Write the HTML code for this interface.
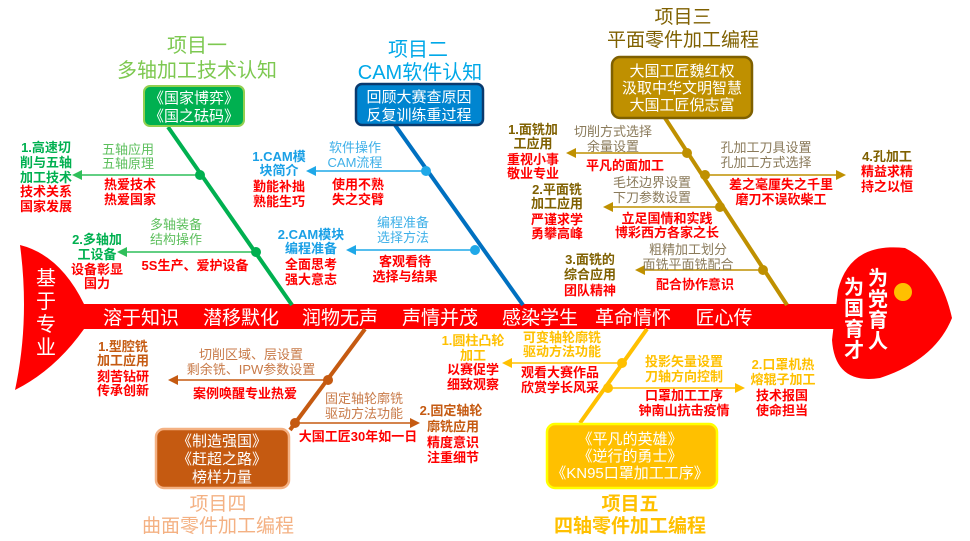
<!DOCTYPE html>
<html><head><meta charset="utf-8"><style>
html,body{margin:0;padding:0;background:#fff;}
svg{display:block;font-family:"Liberation Sans","Noto Sans CJK SC",sans-serif;}
.r{fill:#ff0000;font-weight:700;font-size:13px;}
.s{font-size:13px;}
.b{font-weight:700;font-size:13px;}
</style></head><body>
<svg width="970" height="541" viewBox="0 0 970 541" xmlns="http://www.w3.org/2000/svg" text-anchor="middle">
<defs>
<marker id="ag" markerWidth="8" markerHeight="8" refX="1" refY="4" orient="auto-start-reverse" markerUnits="userSpaceOnUse"><path d="M0,4 L9,0 L9,8 Z" fill="#2fbf5a"/></marker>
</defs>
<!-- spine -->
<rect x="80" y="304" width="760" height="25" fill="#ff0000"/>
<path d="M20,245 Q60,255 84,304 L84,329 Q55,370 15,390 Q30,320 20,245 Z" fill="#ff0000"/>
<path d="M838,290 Q850,242 905,248 Q940,265 952,318 Q935,360 880,378 Q835,385 832,340 Z" fill="#ff0000"/>
<circle cx="903" cy="292" r="9" fill="#ffc000"/>
<g fill="#fff" font-size="20">
<text x="46" y="285">基</text><text x="46" y="308">于</text><text x="46" y="331">专</text><text x="46" y="354">业</text>
<text x="878" y="285" font-weight="700">为</text><text x="878" y="306" font-weight="700">党</text><text x="878" y="327" font-weight="700">育</text><text x="878" y="348" font-weight="700">人</text>
<text x="854" y="294" font-weight="700">为</text><text x="854" y="315" font-weight="700">国</text><text x="854" y="336" font-weight="700">育</text><text x="854" y="357" font-weight="700">才</text>
<g font-size="19"><text x="141" y="324">溶于知识</text><text x="241" y="324">潜移默化</text><text x="340" y="324">润物无声</text><text x="440" y="324">声情并茂</text><text x="540" y="324">感染学生</text><text x="633" y="324">革命情怀</text><text x="724" y="324">匠心传</text></g>
</g>

<!-- GREEN -->
<g stroke="#00b050" stroke-width="4"><line x1="168" y1="127" x2="292" y2="305"/></g>
<g stroke="#2fbf5a" stroke-width="1.5"><line x1="200" y1="175" x2="80" y2="175"/><line x1="256" y1="252" x2="126" y2="252"/></g>
<path d="M72,175 L82,170 L82,180Z M117,252 L127,247 L127,257Z" fill="#2fbf5a"/>
<circle cx="200" cy="175" r="5" fill="#00b050"/><circle cx="256" cy="252" r="5" fill="#00b050"/>
<rect x="144" y="86" width="100" height="40" rx="6" fill="#00b050" stroke="#92d050" stroke-width="2"/>
<g fill="#fff" font-size="15"><text x="194" y="103">《国家博弈》</text><text x="194" y="121">《国之砝码》</text></g>
<g fill="#7dc850" font-size="20"><text x="197" y="52">项目一</text><text x="197" y="77">多轴加工技术认知</text></g>
<g fill="#5cbf5c" class="s"><text x="128" y="154">五轴应用</text><text x="128" y="168">五轴原理</text><text x="176" y="229">多轴装备</text><text x="176" y="244">结构操作</text></g>
<g class="r"><text x="130" y="189">热爱技术</text><text x="130" y="204">热爱国家</text><text x="195" y="270">5S生产、爱护设备</text><text x="46" y="196">技术关系</text><text x="46" y="211">国家发展</text><text x="97" y="274">设备彰显</text><text x="97" y="288">国力</text></g>
<g fill="#00b050" class="b"><text x="46" y="152">1.高速切</text><text x="46" y="167">削与五轴</text><text x="46" y="182">加工技术</text><text x="97" y="244">2.多轴加</text><text x="97" y="259">工设备</text></g>

<!-- BLUE -->
<line x1="395" y1="125" x2="523" y2="305" stroke="#0070c0" stroke-width="4"/>
<g stroke="#1fa8e8" stroke-width="1.5"><line x1="426" y1="171" x2="314" y2="171"/><line x1="475" y1="250" x2="354" y2="250"/></g>
<path d="M306,171 L316,166 L316,176Z M346,250 L356,245 L356,255Z" fill="#1fa8e8"/>
<circle cx="426" cy="171" r="5" fill="#1fa8e8"/><circle cx="475" cy="250" r="5" fill="#1fa8e8"/>
<rect x="356" y="84" width="127" height="41" rx="6" fill="#0085d0" stroke="#0a3a6e" stroke-width="2.5"/>
<g fill="#fff" font-size="15"><text x="419" y="102">回顾大赛查原因</text><text x="419" y="120">反复训练重过程</text></g>
<g fill="#00a8e8" font-size="20"><text x="418" y="56">项目二</text><text x="420" y="79">CAM软件认知</text></g>
<g fill="#3fb0e8" class="s"><text x="355" y="152">软件操作</text><text x="355" y="167">CAM流程</text><text x="403" y="227">编程准备</text><text x="403" y="242">选择方法</text></g>
<g class="r"><text x="358" y="189">使用不熟</text><text x="358" y="204">失之交臂</text><text x="405" y="266">客观看待</text><text x="405" y="281">选择与结果</text><text x="279" y="191">勤能补拙</text><text x="279" y="206">熟能生巧</text><text x="311" y="269">全面思考</text><text x="311" y="284">强大意志</text></g>
<g fill="#1aa0e6" class="b"><text x="279" y="161">1.CAM模</text><text x="279" y="175">块简介</text><text x="311" y="239">2.CAM模块</text><text x="311" y="253">编程准备</text></g>

<!-- GOLD -->
<line x1="665" y1="118" x2="787" y2="305" stroke="#bf9000" stroke-width="4"/>
<g stroke="#bf9000" stroke-width="1.5"><line x1="687" y1="153" x2="574" y2="153"/><line x1="705" y1="175" x2="838" y2="175"/><line x1="720" y1="207" x2="611" y2="207"/><line x1="763" y1="270" x2="643" y2="270"/></g>
<path d="M566,153 L576,148 L576,158Z M846,175 L836,170 L836,180Z M603,207 L613,202 L613,212Z M635,270 L645,265 L645,275Z" fill="#bf9000"/>
<g fill="#bf9000"><circle cx="687" cy="153" r="5"/><circle cx="705" cy="175" r="5"/><circle cx="720" cy="207" r="5"/><circle cx="763" cy="270" r="5"/></g>
<rect x="612" y="57" width="140" height="61" rx="8" fill="#bf9000" stroke="#7f6000" stroke-width="2.5"/>
<g fill="#fff" font-size="15"><text x="682" y="76">大国工匠魏红权</text><text x="682" y="93">汲取中华文明智慧</text><text x="682" y="110">大国工匠倪志富</text></g>
<g fill="#7f6000" font-size="19"><text x="683" y="23">项目三</text><text x="683" y="46">平面零件加工编程</text></g>
<g fill="#8a7a5a" class="s"><text x="613" y="136">切削方式选择</text><text x="613" y="151">余量设置</text><text x="766" y="152">孔加工刀具设置</text><text x="766" y="167">孔加工方式选择</text><text x="652" y="187">毛坯边界设置</text><text x="652" y="202">下刀参数设置</text><text x="688" y="254">粗精加工划分</text><text x="688" y="269">面铣平面铣配合</text></g>
<g class="r"><text x="625" y="170">平凡的面加工</text><text x="781" y="189">差之毫厘失之千里</text><text x="781" y="204">磨刀不误砍柴工</text><text x="667" y="223">立足国情和实践</text><text x="667" y="237">博彩西方各家之长</text><text x="695" y="289">配合协作意识</text>
<text x="533" y="164">重视小事</text><text x="533" y="178">敬业专业</text><text x="887" y="176">精益求精</text><text x="887" y="191">持之以恒</text><text x="557" y="224">严谨求学</text><text x="557" y="238">勇攀高峰</text><text x="590" y="295">团队精神</text></g>
<g fill="#7f6000" class="b"><text x="533" y="134">1.面铣加</text><text x="533" y="148">工应用</text><text x="887" y="161">4.孔加工</text><text x="557" y="194">2.平面铣</text><text x="557" y="208">加工应用</text><text x="590" y="264">3.面铣的</text><text x="590" y="279">综合应用</text></g>

<!-- BROWN -->
<line x1="365" y1="329" x2="290" y2="430" stroke="#c55a11" stroke-width="4"/>
<g stroke="#c55a11" stroke-width="1.5"><line x1="328" y1="380" x2="176" y2="380"/><line x1="295" y1="423" x2="412" y2="423"/></g>
<path d="M168,380 L178,375 L178,385Z M420,423 L410,418 L410,428Z" fill="#c55a11"/>
<g fill="#c55a11"><circle cx="328" cy="380" r="5"/><circle cx="295" cy="423" r="5"/></g>
<rect x="156" y="429" width="133" height="59" rx="8" fill="#c55a11" stroke="#f4b183" stroke-width="2.5"/>
<g fill="#fff" font-size="15"><text x="222" y="446">《制造强国》</text><text x="222" y="464">《赶超之路》</text><text x="222" y="482">榜样力量</text></g>
<g fill="#f4b183" font-size="19"><text x="218" y="510">项目四</text><text x="218" y="532">曲面零件加工编程</text></g>
<g fill="#c87a48" class="s"><text x="251" y="359">切削区域、层设置</text><text x="251" y="374">剩余铣、IPW参数设置</text><text x="364" y="403">固定轴轮廓铣</text><text x="364" y="418">驱动方法功能</text></g>
<g class="r"><text x="245" y="398">案例唤醒专业热爱</text><text x="358" y="441">大国工匠30年如一日</text><text x="123" y="381">刻苦钻研</text><text x="123" y="395">传承创新</text><text x="453" y="447">精度意识</text><text x="453" y="462">注重细节</text></g>
<g fill="#c55a11" class="b"><text x="123" y="351">1.型腔铣</text><text x="123" y="365">加工应用</text><text x="451" y="415">2.固定轴轮</text><text x="453" y="431">廓铣应用</text></g>

<!-- YELLOW -->
<line x1="647" y1="329" x2="580" y2="423" stroke="#ffc000" stroke-width="4"/>
<g stroke="#ffc000" stroke-width="1.5"><line x1="622" y1="363" x2="510" y2="363"/><line x1="608" y1="388" x2="737" y2="388"/></g>
<path d="M502,363 L512,358 L512,368Z M745,388 L735,383 L735,393Z" fill="#ffc000"/>
<g fill="#ffc000"><circle cx="622" cy="363" r="5"/><circle cx="608" cy="388" r="5"/></g>
<rect x="547" y="424" width="170" height="64" rx="8" fill="#ffc000" stroke="#ffff00" stroke-width="2.5"/>
<g fill="#fff" font-size="15"><text x="630" y="444">《平凡的英雄》</text><text x="630" y="461">《逆行的勇士》</text><text x="630" y="478">《KN95口罩加工工序》</text></g>
<g fill="#ffc000" font-size="19" font-weight="700"><text x="630" y="510">项目五</text><text x="630" y="532">四轴零件加工编程</text></g>
<g fill="#ffc000" class="b"><text x="562" y="342">可变轴轮廓铣</text><text x="562" y="356">驱动方法功能</text><text x="684" y="366">投影矢量设置</text><text x="684" y="381">刀轴方向控制</text><text x="473" y="345">1.圆柱凸轮</text><text x="473" y="360">加工</text><text x="783" y="369">2.口罩机热</text><text x="783" y="384">熔辊子加工</text></g>
<g class="r"><text x="560" y="377">观看大赛作品</text><text x="560" y="392">欣赏学长风采</text><text x="684" y="400">口罩加工工序</text><text x="684" y="415">钟南山抗击疫情</text><text x="473" y="374">以赛促学</text><text x="473" y="389">细致观察</text><text x="782" y="400">技术报国</text><text x="782" y="415">使命担当</text></g>
</svg>
</body></html>
